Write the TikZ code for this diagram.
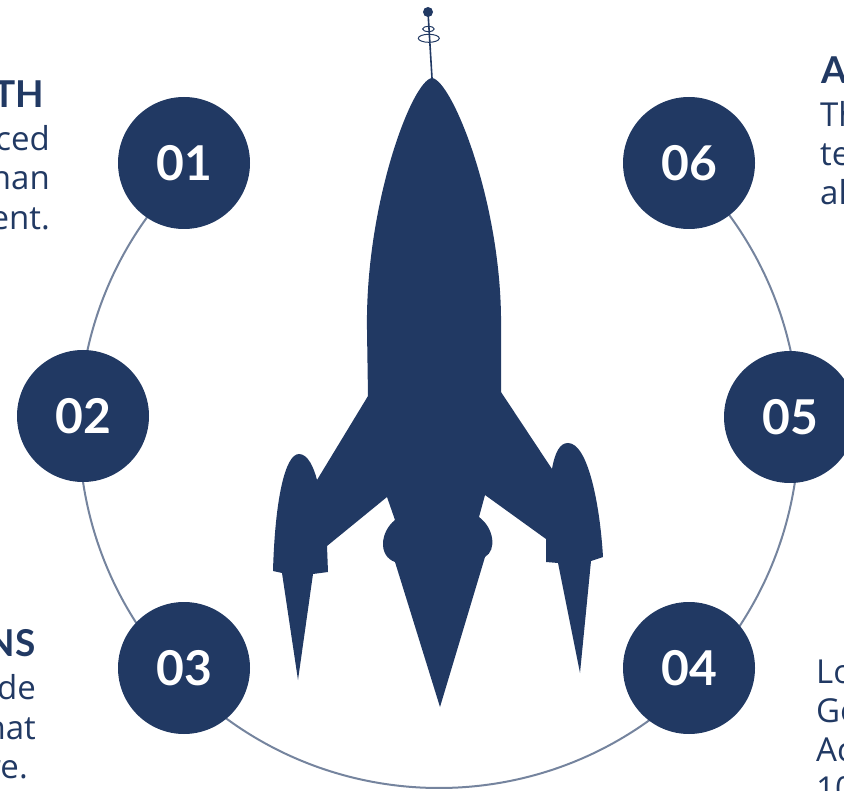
\documentclass[tikz,border=0pt]{standalone}
\usepackage{fontspec}
\setmainfont{Open Sans}
\newfontfamily\latofont{Lato}
\definecolor{navy}{HTML}{213963}
\begin{document}
\begin{tikzpicture}[x=1pt,y=-1pt,
  numcirc/.style={circle,fill=navy,minimum size=132pt,inner sep=0pt,text=white,font=\latofont\bfseries\fontsize{48}{50}\selectfont},
  headtxt/.style={inner sep=0pt,text=navy,font=\latofont\bfseries\fontsize{37}{40}\selectfont},
  bodytxt/.style={inner sep=0pt,text=navy,font=\fontsize{33}{40}\selectfont},
  ring/.style={draw=navy!62,line width=2pt},
  rocketfill/.style={fill=navy},
  antline/.style={draw=navy,line width=1.6pt},
  antring/.style={draw=navy,line width=1pt}]
\useasboundingbox (0,0) rectangle (844,791);
\clip (0,0) rectangle (844,791);

% ring
\coordinate (rc) at (439,428);
\draw[ring] (rc) ++(226:360) arc[start angle=226,end angle=-47,radius=360];

% rocket antenna
\coordinate (ball) at (428,12);
\coordinate (nose) at (432,78);
\draw[antline] (ball) -- (nose);
\fill[navy] (ball) circle (5);
\draw[antring] (428.4,29) ellipse [x radius=5.8,y radius=2.6];
\draw[antring] (428.8,38.3) ellipse [x radius=10.5,y radius=4];

% rocket body
\fill[rocketfill] (nose)
 .. controls (452,80) and (503,205) .. (501,330)
 -- (501,392) -- (552,469)
 .. controls (555,452) and (560,443) .. (568,443)
 .. controls (588,443) and (600,505) .. (603,557)
 -- (591,561) -- (580,673) -- (558,563) -- (546,562) -- (546,539)
 -- (485,495) -- (479,517)
 .. controls (494,528) and (497,550) .. (485,557)
 -- (440,707) -- (395,562)
 .. controls (378,556) and (380,532) .. (395,520)
 -- (387,497) -- (327,546) -- (328,572) -- (313,574) -- (298,680) -- (282,573) -- (273,571)
 .. controls (275,500) and (285,454) .. (299,454)
 .. controls (308,454) and (314,468) .. (317,480)
 -- (368,396) -- (367,330)
 .. controls (365,205) and (412,80) .. (nose) -- cycle;

% number circles
\node[numcirc] (c1) at (184,163) {01};
\node[numcirc] (c2) at (83,416) {02};
\node[numcirc] (c3) at (184,668) {03};
\node[numcirc] (c4) at (689,668) {04};
\node[numcirc] (c5) at (790,417) {05};
\node[numcirc] (c6) at (689,163) {06};

% texts top left
\node[headtxt,anchor=base east] (h1) at (44,108) {TH};
\node[bodytxt,anchor=base east] (b1a) at (50,151) {ced};
\node[bodytxt,anchor=base east] (b1b) at (50,190) {han};
\node[bodytxt,anchor=base east] (b1c) at (50,230) {ent.};

% texts bottom left
\node[headtxt,anchor=base east] (h3) at (36,656) {NS};
\node[bodytxt,anchor=base east] (b3a) at (36,699) {de};
\node[bodytxt,anchor=base east] (b3b) at (36,739) {hat};
\node[bodytxt,anchor=base east] (b3c) at (28,778) {re.};

% texts top right
\node[headtxt,anchor=base west] (h6) at (821,84) {A};
\node[bodytxt,anchor=base west] (b6a) at (820,127) {Th};
\node[bodytxt,anchor=base west] (b6b) at (820,166) {te};
\node[bodytxt,anchor=base west] (b6c) at (820,205) {al};

% texts bottom right
\node[bodytxt,anchor=base west] (b4a) at (816,683) {Lo};
\node[bodytxt,anchor=base west] (b4b) at (816,722) {Go};
\node[bodytxt,anchor=base west] (b4c) at (816,761) {Ac};
\node[bodytxt,anchor=base west] (b4d) at (816,800) {10};
\end{tikzpicture}
\end{document}
